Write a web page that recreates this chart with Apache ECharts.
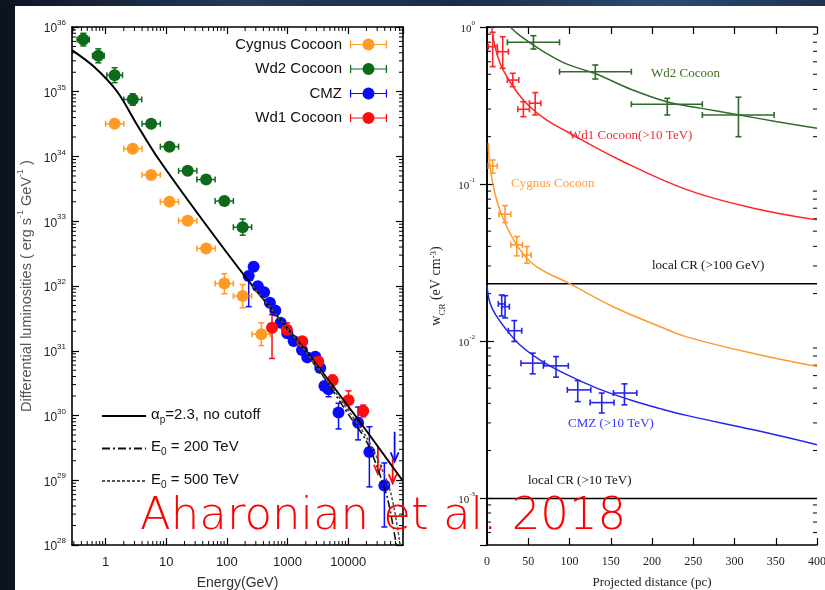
<!DOCTYPE html>
<html><head><meta charset="utf-8">
<script src="https://cdn.jsdelivr.net/npm/echarts@6/dist/echarts.min.js"></script>
<style>
html,body{margin:0;padding:0;width:825px;height:590px;overflow:hidden;background:#0c1422;}
#topband{position:absolute;left:0;top:0;width:825px;height:6px;background:linear-gradient(90deg,#0c1422 0,#243a5c 30%,#1a2c48 55%,#2c4a70 80%,#1d3354 100%);}
#white{position:absolute;left:15px;top:6px;width:810px;height:584px;background:#fff;}
#chart{position:absolute;left:0;top:0;width:825px;height:590px;}
</style></head>
<body><div id="topband"></div><div id="white"></div><div id="chart"></div>
<script>
// ---------- LEFT PANEL DATA: [E (GeV), L, Elo, Ehi, Llo, Lhi] ----------
const cygnusLum = [
  [1.41, 3.2e34, 1.0, 2.0, 2.95e34, 3.5e34],
  [2.81, 1.32e34, 2.0, 4.0, 1.21e34, 1.44e34],
  [5.65, 5.2e33, 4.0, 8.0, 4.8e33, 5.7e33],
  [11.3, 2.0e33, 8.0, 16, 1.83e33, 2.2e33],
  [22.6, 1.02e33, 16, 32, 9.3e32, 1.12e33],
  [45.5, 3.8e32, 32, 64, 3.4e32, 4.25e32],
  [91, 1.09e32, 64, 128, 7.6e31, 1.55e32],
  [182, 7.0e31, 128, 256, 4.6e31, 1.05e32],
  [370, 1.8e31, 260, 520, 1.2e31, 2.7e31]
];
const wd2Lum = [
  [0.43, 6.4e35, 0.34, 0.54, 5.1e35, 8.0e35],
  [0.76, 3.6e35, 0.61, 0.95, 2.8e35, 4.6e35],
  [1.41, 1.8e35, 1.05, 1.9, 1.38e35, 2.35e35],
  [2.81, 7.6e34, 2.0, 3.95, 6.2e34, 9.3e34],
  [5.65, 3.2e34, 4.0, 8.0, 2.9e34, 3.55e34],
  [11.3, 1.42e34, 8.0, 16, 1.28e34, 1.57e34],
  [22.6, 6.0e33, 16, 32, 5.4e33, 6.7e33],
  [45.5, 4.4e33, 32, 64, 4.0e33, 4.9e33],
  [91, 2.05e33, 64, 128, 1.85e33, 2.27e33],
  [182, 8.1e32, 128, 256, 6.1e32, 1.08e33]
];
const cmzLum = [
  [229, 1.43e32, 229, 229, 4.8e31, 1.6e32],
  [276, 1.99e32, 276, 276, 1.75e32, 2.3e32],
  [324, 9.9e31, 324, 324, 8.9e31, 1.1e32],
  [411, 8.0e31, 411, 411, 7.2e31, 8.9e31],
  [512, 5.5e31, 512, 512, 4.95e31, 6.1e31],
  [628, 4.2e31, 628, 628, 3.8e31, 4.7e31],
  [769, 2.7e31, 769, 769, 2.4e31, 3.0e31],
  [991, 1.86e31, 991, 991, 1.67e31, 2.07e31],
  [1259, 1.42e31, 1259, 1259, 1.28e31, 1.58e31],
  [1730, 1.03e31, 1730, 1730, 9.3e30, 1.15e31],
  [2113, 7.9e30, 2113, 2113, 7.1e30, 8.8e30],
  [2864, 8.1e30, 2864, 2864, 7.3e30, 9.0e30],
  [3459, 5.4e30, 3459, 3459, 4.85e30, 6.0e30],
  [4055, 2.86e30, 4055, 4055, 2.5e30, 3.2e30],
  [4742, 2.54e30, 4742, 4742, 1.95e30, 2.8e30],
  [6925, 1.11e30, 6925, 6925, 6.2e29, 1.55e30],
  [14560, 7.7e29, 14560, 14560, 4.2e29, 1.35e30],
  [22330, 2.73e29, 22330, 22330, 7.9e28, 6.7e29],
  [39450, 8.3e28, 39450, 39450, 1.9e28, 1.85e29]
];
const wd1Lum = [
  [555, 2.26e31, 555, 555, 7.6e30, 3.6e31],
  [979, 2.11e31, 979, 979, 1.6e31, 2.7e31],
  [1749, 1.40e31, 1749, 1749, 1.2e31, 1.63e31],
  [3206, 6.8e30, 3206, 3206, 5.8e30, 7.9e30],
  [5521, 3.5e30, 5521, 5521, 2.9e30, 4.2e30],
  [10120, 1.72e30, 10120, 10120, 1.22e30, 2.4e30],
  [17660, 1.17e30, 17660, 17660, 9.5e29, 1.45e30]
];
// upper limits: [E, top, arrow tip]
const cmzUpper = [[58210, 5.6e29, 1.95e29]];
const wd1Upper = [[30830, 3.3e29, 1.25e29], [54050, 2.18e29, 9.0e28]];
// model curves
const curveNoCutoff = [[0.28,4.4e35],[0.64,2.45e35],[1.56,1.0e35],[3.3,3.1e34],[7.0,1.0e34],[41,1.0e33],[265,1.0e32],[2000,1.0e31],[13000,1.0e30],[78000,1.0e29]];
const curveE200 = [[265,1.0e32],[1000,2.2e31],[3000,5.7e30],[10000,1.05e30],[20000,4.0e29],[30000,1.6e29],[45000,5.0e28],[62000,1.0e28]];
const curveE500 = [[265,1.0e32],[1000,2.2e31],[3000,5.9e30],[10000,1.2e30],[20000,4.6e29],[30000,2.2e29],[50000,6.5e28],[72000,1.0e28]];
const seriesNames = ['Cygnus Cocoon', 'Wd2 Cocoon', 'CMZ', 'Wd1 Cocoon'];
const curveNames = ['αp=2.3, no cutoff', 'E0 = 200 TeV', 'E0 = 500 TeV'];
const energyTicks = [1, 10, 100, 1000, 10000];

// ---------- RIGHT PANEL DATA: [r (pc), w, rlo, rhi, wlo, whi] ----------
const wd2W = [
  [56.3, 0.799, 24.7, 87.9, 0.724, 0.880],
  [131.3, 0.519, 87.9, 175, 0.466, 0.573],
  [218.5, 0.322, 175, 261, 0.275, 0.351],
  [304.8, 0.275, 261, 348, 0.200, 0.357]
];
const wd1W = [
  [6.9, 0.749, 1.6, 12.5, 0.559, 0.925],
  [19.1, 0.696, 12.9, 25.9, 0.546, 0.867],
  [31.2, 0.459, 24.7, 38.5, 0.417, 0.507],
  [44.1, 0.299, 37.3, 51.4, 0.268, 0.334],
  [58.4, 0.327, 51.4, 65.3, 0.275, 0.382]
];
const cygW = [
  [6.9, 0.130, 1.6, 12.5, 0.117, 0.142],
  [21.9, 0.0641, 14.6, 28.8, 0.0567, 0.0727],
  [36.1, 0.0409, 28.8, 42.9, 0.0348, 0.0462],
  [48.3, 0.0353, 42.9, 53.5, 0.0313, 0.0399]
];
const cmzW = [
  [17.8, 0.0172, 13.7, 21.9, 0.0144, 0.0196],
  [21.9, 0.0165, 17.8, 27.1, 0.0140, 0.0194],
  [33.1, 0.0116, 25.8, 42.1, 0.0099, 0.01346],
  [55.4, 0.00721, 41.2, 69.5, 0.00616, 0.00835],
  [83.7, 0.00693, 68.3, 98.6, 0.00587, 0.00794],
  [110, 0.00487, 97.4, 125.8, 0.0041, 0.00558],
  [139.1, 0.00404, 125, 154, 0.00347, 0.00465],
  [166.6, 0.00465, 153.2, 181.6, 0.00391, 0.00532]
];
const wd2WCurve = [[28,1.0],[40,0.88],[56,0.77],[72,0.68],[97,0.58],[131,0.505],[175,0.40],[218,0.334],[260,0.303],[304,0.276],[350,0.25],[400,0.226]];
const wd1WCurve = [[5.7,1.0],[9.7,0.75],[15.8,0.587],[24,0.482],[36,0.387],[52,0.31],[72,0.256],[97,0.215],[161,0.142],[242,0.092],[323,0.070],[400,0.059]];
const cygWCurve = [[1.6,0.182],[3.6,0.129],[11.7,0.079],[24,0.0535],[40,0.038],[60,0.0297],[99,0.0233],[153,0.0165],[210,0.0123],[242,0.0106],[323,0.0083],[400,0.00686]];
const cmzWCurve = [[0,0.0227],[3.6,0.0174],[11.7,0.0143],[24,0.0117],[40,0.0094],[64,0.00757],[93,0.00622],[133,0.0050],[174,0.0042],[210,0.0037],[242,0.00335],[323,0.00271],[400,0.00218]];
const localCR100GeV = 0.0231;
const localCR10TeV = 0.00099;
const distanceTicks = [0, 50, 100, 150, 200, 250, 300, 350, 400];

// ---------- axis ranges ----------
const E_MIN = 0.28, E_MAX = 80000, L_MIN = 1e28, L_MAX = 1e36;
const R_MIN = 0, R_MAX = 400, W_MIN = 5e-4, W_MAX = 1;

const C_ORANGE = '#ff9a24', C_GREEN = '#0d6a18', C_BLUE = '#0a0aff', C_RED = '#ff0c0c';
const C_ORANGE_R = '#ff9a30', C_GREEN_R = '#2f6b2a', C_BLUE_R = '#2424f0', C_RED_R = '#ff2626';

function minorLog(lo, hi, k0, k1) {
  const out = [];
  for (let k = k0; k <= k1; k++) for (let m = 2; m <= 9; m++) {
    const v = m * Math.pow(10, k);
    if (v > lo && v < hi) out.push(v);
  }
  return out;
}
const minorE = minorLog(E_MIN, E_MAX, -1, 4);
const minorL = minorLog(L_MIN, L_MAX, 28, 35);
const minorW = minorLog(W_MIN, W_MAX, -4, -1);

function errRender(color, cap, lw) {
  return function (params, api) {
    const x = api.value(0), y = api.value(1);
    const xl = api.value(2), xh = api.value(3), yl = api.value(4), yh = api.value(5);
    const ch = [];
    const st = () => ({ stroke: color, lineWidth: lw });
    if (xl !== xh) {
      const a = api.coord([xl, y]), b = api.coord([xh, y]);
      ch.push({ type: 'line', shape: { x1: a[0], y1: a[1], x2: b[0], y2: b[1] }, style: st() });
      ch.push({ type: 'line', shape: { x1: a[0], y1: a[1] - cap, x2: a[0], y2: a[1] + cap }, style: st() });
      ch.push({ type: 'line', shape: { x1: b[0], y1: b[1] - cap, x2: b[0], y2: b[1] + cap }, style: st() });
    }
    if (yl !== yh) {
      const a = api.coord([x, yl]), b = api.coord([x, yh]);
      ch.push({ type: 'line', shape: { x1: a[0], y1: a[1], x2: b[0], y2: b[1] }, style: st() });
      ch.push({ type: 'line', shape: { x1: a[0] - cap, y1: a[1], x2: a[0] + cap, y2: a[1] }, style: st() });
      ch.push({ type: 'line', shape: { x1: b[0] - cap, y1: b[1], x2: b[0] + cap, y2: b[1] }, style: st() });
    }
    return { type: 'group', children: ch };
  };
}
function ulRender(color) {
  return function (params, api) {
    const x = api.value(0);
    const a = api.coord([x, api.value(1)]), b = api.coord([x, api.value(2)]);
    return { type: 'group', children: [
      { type: 'line', shape: { x1: a[0], y1: a[1], x2: b[0], y2: b[1] }, style: { stroke: color, lineWidth: 1.8 } },
      { type: 'polyline', shape: { points: [[b[0] - 4, b[1] - 9], [b[0], b[1]], [b[0] + 4, b[1] - 9]] }, style: { stroke: color, lineWidth: 1.8, fill: null } }
    ] };
  };
}
function tickXRender(y0, y1, len) {
  return function (params, api) {
    const v = api.value(0);
    const a = api.coord([v, y0]), b = api.coord([v, y1]);
    return { type: 'group', children: [
      { type: 'line', shape: { x1: a[0], y1: a[1], x2: a[0], y2: a[1] - len }, style: { stroke: '#000', lineWidth: 1 } },
      { type: 'line', shape: { x1: b[0], y1: b[1], x2: b[0], y2: b[1] + len }, style: { stroke: '#000', lineWidth: 1 } }
    ] };
  };
}
function tickYRender(x0, x1, len) {
  return function (params, api) {
    const v = api.value(1);
    const a = api.coord([x0, v]), b = api.coord([x1, v]);
    return { type: 'group', children: [
      { type: 'line', shape: { x1: a[0], y1: a[1], x2: a[0] + len, y2: a[1] }, style: { stroke: '#000', lineWidth: 1 } },
      { type: 'line', shape: { x1: b[0], y1: b[1], x2: b[0] - len, y2: b[1] }, style: { stroke: '#000', lineWidth: 1 } }
    ] };
  };
}

const SANS = 'Liberation Sans', SERIF = 'Liberation Serif';
const frameLine = { show: true, lineStyle: { color: '#000', width: 1.6 } };
const pow10 = v => '{b|10}{s|' + Math.round(Math.log10(v)) + '}';
const iconErr = 'path://M0,2h1.2v8h-1.2z M0,5.4h37v1.2h-37z M35.8,2h1.2v8h-1.2z M12.5,6a6,6 0 1,1 12,0a6,6 0 1,1 -12,0z';

function mirrorX(grid, type, min, max, interval) {
  const o = { gridIndex: grid, type: type, min: min, max: max, position: 'top', axisLine: frameLine,
    axisTick: { show: true, inside: true, length: 7, lineStyle: { color: '#000', width: 1.2 } },
    axisLabel: { show: false }, splitLine: { show: false } };
  if (interval) o.interval = interval;
  return o;
}
function mirrorY(grid, min, max) {
  return { gridIndex: grid, type: 'log', min: min, max: max, position: 'right', axisLine: frameLine,
    axisTick: { show: true, inside: true, length: 7, lineStyle: { color: '#000', width: 1.2 } },
    axisLabel: { show: false }, splitLine: { show: false } };
}

const option = {
  animation: false,
  grid: [
    { left: 72, top: 27, width: 331, height: 518, containLabel: false, outerBoundsMode: 'none' },
    { left: 487, top: 27, width: 330, height: 518, containLabel: false, outerBoundsMode: 'none' }
  ],
  xAxis: [
    { gridIndex: 0, type: 'log', min: E_MIN, max: E_MAX, position: 'bottom', axisLine: frameLine,
      axisTick: { show: true, inside: true, length: 7, lineStyle: { color: '#000', width: 1.2 } },
      axisLabel: { showMinLabel: false, showMaxLabel: false, margin: 11, fontFamily: SANS, fontSize: 13, color: '#222',
        formatter: v => { const r = Math.round(v); return energyTicks.indexOf(r) >= 0 ? String(r) : ''; } },
      splitLine: { show: false },
      name: 'Energy(GeV)', nameLocation: 'middle', nameGap: 31,
      nameTextStyle: { fontFamily: SANS, fontSize: 14, color: '#333' } },
    mirrorX(0, 'log', E_MIN, E_MAX),
    { gridIndex: 1, type: 'value', min: R_MIN, max: R_MAX, interval: 50, position: 'bottom', axisLine: frameLine,
      axisTick: { show: true, inside: true, length: 7, lineStyle: { color: '#000', width: 1.2 } },
      axisLabel: { margin: 11, fontFamily: SERIF, fontSize: 12, color: '#222',
        formatter: v => distanceTicks.indexOf(v) >= 0 ? String(v) : '' },
      splitLine: { show: false },
      name: 'Projected distance (pc)', nameLocation: 'middle', nameGap: 31,
      nameTextStyle: { fontFamily: SERIF, fontSize: 13, color: '#222' } },
    mirrorX(1, 'value', R_MIN, R_MAX, 50)
  ],
  yAxis: [
    { gridIndex: 0, type: 'log', min: L_MIN, max: L_MAX, position: 'left', axisLine: frameLine,
      axisTick: { show: true, inside: true, length: 7, lineStyle: { color: '#000', width: 1.2 } },
      axisLabel: { margin: 6, formatter: pow10,
        rich: { b: { fontFamily: SANS, fontSize: 12, color: '#222', lineHeight: 16, verticalAlign: 'bottom' },
                s: { fontFamily: SANS, fontSize: 8, color: '#222', lineHeight: 8, verticalAlign: 'top' } } },
      splitLine: { show: false },
      name: '{t|Differential luminosities ( erg s}{s|-1}{t| GeV}{s|-1}{t| )}', nameLocation: 'middle', nameGap: 38, nameRotate: 90,
      nameTextStyle: { rich: {
        t: { fontFamily: SANS, fontSize: 14.5, color: '#555', lineHeight: 18, verticalAlign: 'bottom' },
        s: { fontFamily: SANS, fontSize: 9, color: '#555', lineHeight: 9, verticalAlign: 'top' } } } },
    mirrorY(0, L_MIN, L_MAX),
    { gridIndex: 1, type: 'log', min: W_MIN, max: W_MAX, position: 'left', axisLine: frameLine,
      axisTick: { show: true, inside: true, length: 7, lineStyle: { color: '#000', width: 1.2 } },
      axisLabel: { margin: 12, showMinLabel: false, formatter: pow10,
        rich: { b: { fontFamily: SERIF, fontSize: 11, color: '#222', lineHeight: 15, verticalAlign: 'bottom' },
                s: { fontFamily: SERIF, fontSize: 7, color: '#222', lineHeight: 7, verticalAlign: 'top' } } },
      splitLine: { show: false },
      name: '{t|w}{b|CR}{t| (eV cm}{s|-3}{t|)}', nameLocation: 'middle', nameGap: 40, nameRotate: 90,
      nameTextStyle: { rich: {
        t: { fontFamily: SERIF, fontSize: 14, color: '#222', lineHeight: 18, verticalAlign: 'top' },
        b: { fontFamily: SERIF, fontSize: 9, color: '#222', lineHeight: 6, verticalAlign: 'bottom' },
        s: { fontFamily: SERIF, fontSize: 9, color: '#222', lineHeight: 9, verticalAlign: 'top' } } } },
    mirrorY(1, W_MIN, W_MAX)
  ],
  legend: [
    { selectedMode: false, orient: 'vertical', align: 'right', right: 433, top: 32, itemWidth: 37, itemHeight: 12, itemGap: 9.5,
      textStyle: { fontFamily: SANS, fontSize: 15, color: '#111', padding: [0, 3, 0, 0] },
      data: seriesNames.map(n => ({ name: n, icon: iconErr })) },
    { selectedMode: false, orient: 'vertical', align: 'left', left: 96, top: 402, itemWidth: 44, itemHeight: 14, itemGap: 14.5,
      itemStyle: { opacity: 0 },
      data: curveNames,
      formatter: n => n === curveNames[0] ? '{t|α}{s|p}{t|=2.3, no cutoff}'
                   : (n === curveNames[1] ? '{t|E}{s|0}{t| = 200 TeV}' : '{t|E}{s|0}{t| = 500 TeV}'),
      textStyle: { rich: {
        t: { fontFamily: SANS, fontSize: 15, color: '#111', lineHeight: 18, verticalAlign: 'top' },
        s: { fontFamily: SANS, fontSize: 10, color: '#111', lineHeight: 6, verticalAlign: 'bottom' } } } }
  ],
  graphic: [
    { type: 'text', left: 651, top: 67, z: 50, style: { text: 'Wd2 Cocoon', fontFamily: SERIF, fontSize: 13, fill: '#3d6e22' } },
    { type: 'text', left: 569, top: 129, z: 50, style: { text: 'Wd1 Cocoon(>10 TeV)', fontFamily: SERIF, fontSize: 13, fill: '#ee2a3c' } },
    { type: 'text', left: 511, top: 177, z: 50, style: { text: 'Cygnus Cocoon', fontFamily: SERIF, fontSize: 13, fill: '#ff9d35' } },
    { type: 'text', left: 652, top: 259, z: 50, style: { text: 'local CR (>100 GeV)', fontFamily: SERIF, fontSize: 13, fill: '#111' } },
    { type: 'text', left: 568, top: 417, z: 50, style: { text: 'CMZ (>10 TeV)', fontFamily: SERIF, fontSize: 13, fill: '#3434ff' } },
    { type: 'text', left: 528, top: 474, z: 50, style: { text: 'local CR (>10 TeV)', fontFamily: SERIF, fontSize: 13, fill: '#111' } },
    { type: 'text', left: 140, top: 495, z: 100, style: { text: 'Aharonian et al. 2018', fontFamily: 'DejaVu Sans', fontWeight: 200, fontSize: 45, fill: '#ff0000' } }
  ],
  series: [
    // minor ticks
    { type: 'custom', xAxisIndex: 0, yAxisIndex: 0, silent: true, renderItem: tickXRender(L_MIN, L_MAX, 4), data: minorE.map(v => [v, L_MIN]) },
    { type: 'custom', xAxisIndex: 0, yAxisIndex: 0, silent: true, renderItem: tickYRender(E_MIN, E_MAX, 4), data: minorL.map(v => [E_MIN, v]) },
    { type: 'custom', xAxisIndex: 2, yAxisIndex: 2, silent: true, renderItem: tickYRender(R_MIN, R_MAX, 4), data: minorW.map(v => [R_MIN, v]) },
    // left: error bars
    { type: 'custom', name: 'e-cyg', xAxisIndex: 0, yAxisIndex: 0, z: 3, renderItem: errRender(C_ORANGE, 3, 1.5), data: cygnusLum },
    { type: 'custom', name: 'e-wd2', xAxisIndex: 0, yAxisIndex: 0, z: 3, renderItem: errRender(C_GREEN, 3, 1.5), data: wd2Lum },
    { type: 'custom', name: 'e-cmz', xAxisIndex: 0, yAxisIndex: 0, z: 3, renderItem: errRender(C_BLUE, 3, 1.5), data: cmzLum },
    { type: 'custom', name: 'e-wd1', xAxisIndex: 0, yAxisIndex: 0, z: 3, renderItem: errRender(C_RED, 3, 1.5), data: wd1Lum },
    { type: 'custom', name: 'u-cmz', xAxisIndex: 0, yAxisIndex: 0, z: 3, renderItem: ulRender(C_BLUE), data: cmzUpper },
    { type: 'custom', name: 'u-wd1', xAxisIndex: 0, yAxisIndex: 0, z: 3, renderItem: ulRender(C_RED), data: wd1Upper },
    // left: markers
    { type: 'scatter', name: seriesNames[0], xAxisIndex: 0, yAxisIndex: 0, z: 4, symbolSize: 12, itemStyle: { color: C_ORANGE, opacity: 1 }, data: cygnusLum.map(d => [d[0], d[1]]) },
    { type: 'scatter', name: seriesNames[1], xAxisIndex: 0, yAxisIndex: 0, z: 4, symbolSize: 12, itemStyle: { color: C_GREEN, opacity: 1 }, data: wd2Lum.map(d => [d[0], d[1]]) },
    { type: 'scatter', name: seriesNames[2], xAxisIndex: 0, yAxisIndex: 0, z: 4, symbolSize: 12, itemStyle: { color: C_BLUE, opacity: 1 }, data: cmzLum.map(d => [d[0], d[1]]) },
    { type: 'scatter', name: seriesNames[3], xAxisIndex: 0, yAxisIndex: 0, z: 4, symbolSize: 12, itemStyle: { color: C_RED, opacity: 1 }, data: wd1Lum.map(d => [d[0], d[1]]) },
    // left: model curves
    { type: 'line', name: curveNames[0], xAxisIndex: 0, yAxisIndex: 0, z: 5, smooth: 0.3, symbol: 'none', lineStyle: { color: '#000', width: 2 }, itemStyle: { color: '#000' }, data: curveNoCutoff },
    { type: 'line', name: curveNames[1], xAxisIndex: 0, yAxisIndex: 0, z: 5, smooth: 0.3, symbol: 'none', lineStyle: { color: '#111', width: 1.6, type: [8, 3, 2, 3] }, itemStyle: { color: '#111' }, data: curveE200 },
    { type: 'line', name: curveNames[2], xAxisIndex: 0, yAxisIndex: 0, z: 5, smooth: 0.3, symbol: 'none', lineStyle: { color: '#555', width: 1.6, type: [3, 2] }, itemStyle: { color: '#555' }, data: curveE500 },
    // right: local CR lines
    { type: 'line', xAxisIndex: 2, yAxisIndex: 2, symbol: 'none', silent: true, lineStyle: { color: '#000', width: 1.5 }, data: [[R_MIN, localCR100GeV], [R_MAX, localCR100GeV]] },
    { type: 'line', xAxisIndex: 2, yAxisIndex: 2, symbol: 'none', silent: true, lineStyle: { color: '#000', width: 1.5 }, data: [[R_MIN, localCR10TeV], [R_MAX, localCR10TeV]] },
    // right: curves
    { type: 'line', xAxisIndex: 2, yAxisIndex: 2, smooth: 0.4, symbol: 'none', lineStyle: { color: C_GREEN_R, width: 1.5 }, data: wd2WCurve },
    { type: 'line', xAxisIndex: 2, yAxisIndex: 2, smooth: 0.4, symbol: 'none', lineStyle: { color: C_RED_R, width: 1.5 }, data: wd1WCurve },
    { type: 'line', xAxisIndex: 2, yAxisIndex: 2, smooth: 0.4, symbol: 'none', lineStyle: { color: C_ORANGE_R, width: 1.5 }, data: cygWCurve },
    { type: 'line', xAxisIndex: 2, yAxisIndex: 2, smooth: 0.4, symbol: 'none', lineStyle: { color: C_BLUE_R, width: 1.5 }, data: cmzWCurve },
    // right: data with error bars
    { type: 'custom', xAxisIndex: 2, yAxisIndex: 2, z: 4, renderItem: errRender(C_GREEN_R, 3, 1.6), data: wd2W },
    { type: 'custom', xAxisIndex: 2, yAxisIndex: 2, z: 4, renderItem: errRender(C_RED_R, 3, 1.6), data: wd1W },
    { type: 'custom', xAxisIndex: 2, yAxisIndex: 2, z: 4, renderItem: errRender(C_ORANGE_R, 3, 1.6), data: cygW },
    { type: 'custom', xAxisIndex: 2, yAxisIndex: 2, z: 4, renderItem: errRender(C_BLUE_R, 3, 1.6), data: cmzW }
  ]
};
const chart = echarts.init(document.getElementById('chart'), null, { renderer: 'canvas' });
chart.setOption(option);
</script>
</body></html>
